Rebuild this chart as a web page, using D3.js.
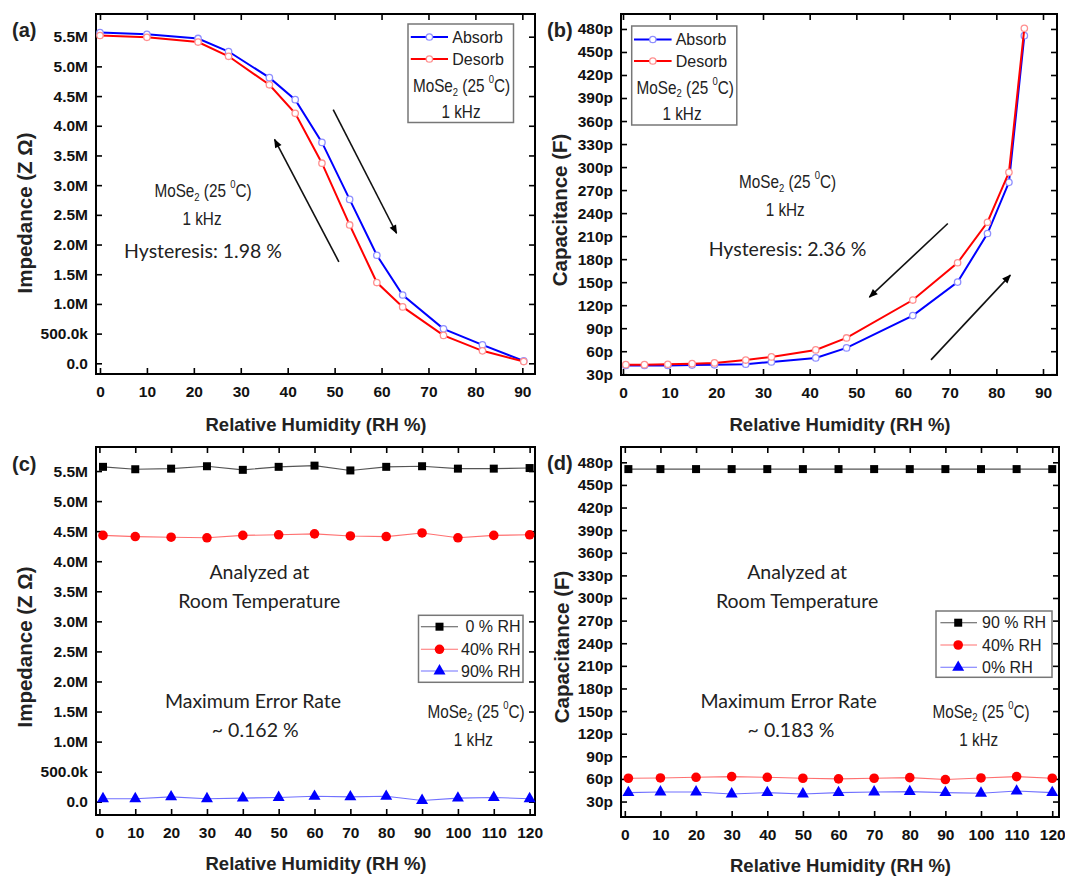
<!DOCTYPE html>
<html><head><meta charset="utf-8">
<script src="https://cdn.jsdelivr.net/npm/d3@7"></script>
<style>body{margin:0;background:#fff} svg{display:block}</style>
</head><body>
<svg id="chart" width="1065" height="877"></svg>
<script>
// ---------------- DATA ----------------
// (a) impedance hysteresis (MΩ)
const rhHyst   = [0, 10, 20.9, 27.4, 36.1, 41.6, 47.3, 53.2, 59.0, 64.5, 73.2, 81.5, 90.3];
const absorbZ  = [5.57, 5.54, 5.47, 5.25, 4.81, 4.44, 3.72, 2.76, 1.82, 1.15, 0.58, 0.31, 0.04];
const desorbZ  = [5.52, 5.49, 5.41, 5.17, 4.69, 4.21, 3.37, 2.33, 1.36, 0.95, 0.47, 0.21, 0.03];
// (b) capacitance hysteresis (pF)
const rhCap    = [0.6, 4.6, 9.6, 14.8, 19.6, 26.3, 31.8, 41.3, 47.9, 62.1, 71.7, 78.1, 82.7, 86.0];
const absorbC  = [41.5, 41.5, 41.5, 42, 42.3, 43, 46, 51.3, 64.3, 106.4, 150.1, 213.4, 280.1, 471.3];
const desorbC  = [42.5, 42.5, 43, 43.8, 44.8, 48.5, 52.6, 61.7, 77.3, 126.7, 175.3, 228.1, 293.1, 480.9];
// (c),(d) stability
const rhStab   = [1, 10, 20, 30, 40, 50, 60, 70, 80, 90, 100, 110, 120];
const stabZ0   = [5.57, 5.53, 5.54, 5.58, 5.52, 5.57, 5.59, 5.51, 5.57, 5.58, 5.54, 5.54, 5.55];
const stabZ40  = [4.43, 4.41, 4.40, 4.39, 4.43, 4.44, 4.455, 4.42, 4.41, 4.47, 4.39, 4.43, 4.44];
const stabZ90  = [0.05, 0.05, 0.08, 0.05, 0.06, 0.07, 0.09, 0.08, 0.09, 0.02, 0.06, 0.07, 0.05];
const stabC90  = [471, 471, 471, 471, 471, 471, 471, 471, 471, 471, 471, 471, 471];
const stabC40  = [60.9, 61.3, 62.2, 63.1, 62.2, 60.9, 60.1, 60.9, 61.7, 59.2, 61.3, 63.1, 60.9];
const stabC0   = [41.8, 42.7, 42.7, 40.1, 41.8, 40.1, 41.8, 42.7, 43.1, 41.8, 41.0, 43.9, 41.8];
// ticks
const xTicksHyst = [0, 10, 20, 30, 40, 50, 60, 70, 80, 90];
const xTicksStab = [0, 10, 20, 30, 40, 50, 60, 70, 80, 90, 100, 110, 120];
const zTicks = [0, 0.5, 1, 1.5, 2, 2.5, 3, 3.5, 4, 4.5, 5, 5.5];
const zTickLabels = ["0.0", "500.0k", "1.0M", "1.5M", "2.0M", "2.5M", "3.0M", "3.5M", "4.0M", "4.5M", "5.0M", "5.5M"];
const cTicks = [30, 60, 90, 120, 150, 180, 210, 240, 270, 300, 330, 360, 390, 420, 450, 480];
const cTickLabels = ["30p", "60p", "90p", "120p", "150p", "180p", "210p", "240p", "270p", "300p", "330p", "360p", "390p", "420p", "450p", "480p"];

// ---------------- DRAWING ----------------
const svg = d3.select('#chart');
const BOLD = "'Liberation Sans', Arial, sans-serif";
const NARROW = "'Liberation Sans', Arial, sans-serif";
const CAL = "Lato, 'Open Sans', sans-serif";

const defs = svg.append('defs');
defs.append('marker').attr('id', 'ah').attr('viewBox', '0 0 10 10').attr('refX', 9).attr('refY', 5)
  .attr('markerWidth', 12).attr('markerHeight', 9).attr('orient', 'auto-start-reverse')
  .attr('markerUnits', 'userSpaceOnUse')
  .append('path').attr('d', 'M0,1 L10,5 L0,9 Z').attr('fill', '#000');

// narrow text: Liberation Sans condensed horizontally
function narrowG(sel, x, y) {
  return sel.append('g').attr('transform', `translate(${x},${y}) scale(0.85,1)`);
}
function mose(sel, x, y, size) {
  const t = narrowG(sel, x, y).append('text').attr('x', 0).attr('y', 0).attr('text-anchor', 'middle')
    .attr('dominant-baseline', 'central').attr('font-family', NARROW).attr('font-size', size).attr('fill', '#222');
  t.append('tspan').text('MoSe');
  t.append('tspan').attr('dy', size * 0.3).attr('font-size', size * 0.62).text('2');
  t.append('tspan').attr('dy', -size * 0.3).text(' (25 ');
  t.append('tspan').attr('dy', -size * 0.38).attr('font-size', size * 0.62).text('0');
  t.append('tspan').attr('dy', size * 0.38).text('C)');
  return t;
}
function khz(sel, x, y, size) {
  return narrowG(sel, x, y).append('text').attr('text-anchor', 'middle').attr('dominant-baseline', 'central')
    .attr('font-family', NARROW).attr('font-size', size).attr('fill', '#222').text('1 kHz');
}
function txt(sel, x, y, s, size, family, anchor, weight) {
  return sel.append('text').attr('x', x).attr('y', y).attr('text-anchor', anchor || 'middle')
    .attr('dominant-baseline', 'central').attr('font-family', family).attr('font-size', size)
    .attr('font-weight', weight || 'normal').attr('fill', '#222').text(s);
}

function panel(cfg) {
  const g = svg.append('g');
  const x = d3.scaleLinear().domain(cfg.xDom).range([cfg.left, cfg.right]);
  const y = d3.scaleLinear().domain(cfg.yDom).range([cfg.bottom, cfg.top]);
  const fmtY = d => cfg.yLabels[cfg.yTicks.indexOf(d)];

  const ax = [
    g.append('g').attr('transform', `translate(0,${cfg.bottom})`)
      .call(d3.axisBottom(x).tickValues(cfg.xTicks).tickSizeInner(-6).tickSizeOuter(0).tickPadding(12).tickFormat(d3.format('d'))),
    g.append('g').attr('transform', `translate(0,${cfg.top})`)
      .call(d3.axisTop(x).tickValues(cfg.xTicks).tickSizeInner(-6).tickSizeOuter(0).tickFormat('')),
    g.append('g').attr('transform', `translate(${cfg.left},0)`)
      .call(d3.axisLeft(y).tickValues(cfg.yTicks).tickSizeInner(-6).tickSizeOuter(0).tickPadding(8).tickFormat(fmtY)),
    g.append('g').attr('transform', `translate(${cfg.right},0)`)
      .call(d3.axisRight(y).tickValues(cfg.yTicks).tickSizeInner(-6).tickSizeOuter(0).tickFormat(''))
  ];
  ax.forEach(a => {
    a.select('.domain').remove();
    a.selectAll('.tick line').attr('stroke', '#000').attr('stroke-width', 1.6);
    a.selectAll('.tick text').attr('font-family', BOLD).attr('font-weight', 'bold')
      .attr('font-size', 15.5).attr('fill', '#111');
  });
  g.append('rect').attr('x', cfg.left).attr('y', cfg.top)
    .attr('width', cfg.right - cfg.left).attr('height', cfg.bottom - cfg.top)
    .attr('fill', 'none').attr('stroke', '#000').attr('stroke-width', 2);

  txt(g, cfg.xTitle[0], cfg.xTitle[1], 'Relative Humidity (RH %)', 18.5, BOLD, 'middle', 'bold');
  txt(g, 0, 0, cfg.yTitle, 20.5, BOLD, 'middle', 'bold')
    .attr('transform', `translate(${cfg.yTitlePos[0]},${cfg.yTitlePos[1]}) rotate(-90)`);
  txt(g, cfg.tag[0], cfg.tag[1], cfg.tagText, 20, BOLD, 'start', 'bold');
  return {g, x, y};
}

function hystSeries(p, xs, ys, color, light) {
  const line = d3.line().x((d, i) => p.x(xs[i])).y(d => p.y(d));
  p.g.append('path').attr('d', line(ys)).attr('fill', 'none').attr('stroke', color).attr('stroke-width', 2);
  p.g.selectAll(null).data(ys).enter().append('circle')
    .attr('cx', (d, i) => p.x(xs[i])).attr('cy', d => p.y(d)).attr('r', 3.2)
    .attr('fill', '#fff').attr('stroke', light).attr('stroke-width', 1.3);
}
const SYM = {
  square: d3.symbol().type(d3.symbolSquare).size(64),
  circle: d3.symbol().type(d3.symbolCircle).size(72),
  triangle: d3.symbol().type(d3.symbolTriangle).size(62)
};
function stabSeries(p, xs, ys, color, light, sym) {
  const line = d3.line().x((d, i) => p.x(xs[i])).y(d => p.y(d));
  p.g.append('path').attr('d', line(ys)).attr('fill', 'none').attr('stroke', light).attr('stroke-width', 1.1);
  p.g.selectAll(null).data(ys).enter().append('path')
    .attr('d', SYM[sym]()).attr('fill', color)
    .attr('transform', (d, i) => `translate(${p.x(xs[i])},${p.y(d)})`);
}
function arrow(p, x1, y1, x2, y2) {
  p.g.append('line').attr('x1', p.x(x1)).attr('y1', p.y(y1)).attr('x2', p.x(x2)).attr('y2', p.y(y2))
    .attr('stroke', '#111').attr('stroke-width', 1.6).attr('marker-end', 'url(#ah)');
}
function legendBox(g, x0, y0, x1, y1) {
  g.append('rect').attr('x', x0).attr('y', y0).attr('width', x1 - x0).attr('height', y1 - y0)
    .attr('fill', '#fff').attr('stroke', '#777').attr('stroke-width', 1.5);
}
function legHyst(g, lx0, lx1, ly, color, light, label, tx) {
  g.append('line').attr('x1', lx0).attr('x2', lx1).attr('y1', ly).attr('y2', ly).attr('stroke', color).attr('stroke-width', 2);
  g.append('circle').attr('cx', (lx0 + lx1) / 2).attr('cy', ly).attr('r', 3.2).attr('fill', '#fff').attr('stroke', light).attr('stroke-width', 1.3);
  txt(g, tx, ly, label, 16, BOLD, 'start');
}
function legStab(g, lx0, lx1, mx, ly, color, light, sym, label, tx, anchor) {
  g.append('line').attr('x1', lx0).attr('x2', lx1).attr('y1', ly).attr('y2', ly).attr('stroke', light).attr('stroke-width', 1.1);
  g.append('path').attr('d', SYM[sym]()).attr('fill', color).attr('transform', `translate(${mx},${ly})`);
  txt(g, tx, ly, label, 16, BOLD, anchor || 'start');
}

// ---- (a)
const pa = panel({left: 96, right: 535, top: 14, bottom: 374, xDom: [-0.85, 92.7], yDom: [-0.18, 5.882],
  xTicks: xTicksHyst, yTicks: zTicks, yLabels: zTickLabels, xTitle: [316, 424], yTitle: 'Impedance (Z Ω)',
  yTitlePos: [24, 213], tag: [12, 30], tagText: '(a)'});
arrow(pa, 50.9, 1.71, 37.2, 3.77);
arrow(pa, 49.7, 4.27, 63.2, 2.19);
hystSeries(pa, rhHyst, absorbZ, '#0000ff', '#8f8fff');
hystSeries(pa, rhHyst, desorbZ, '#ff0000', '#ff9090');
mose(pa.g, 203, 191, 18);
khz(pa.g, 202, 219, 18);
txt(pa.g, 203, 250, 'Hysteresis: 1.98 %', 19.5, CAL);
legendBox(pa.g, 408, 24, 513.5, 122.5);
legHyst(pa.g, 410.8, 448, 37, '#0000ff', '#8f8fff', 'Absorb', 452.3);
legHyst(pa.g, 410.8, 448, 59, '#ff0000', '#ff9090', 'Desorb', 452.3);
mose(pa.g, 461.5, 86, 18);
khz(pa.g, 461, 112.5, 18);

// ---- (b)
const pb = panel({left: 621, right: 1057, top: 14, bottom: 375, xDom: [-0.43, 93], yDom: [29, 499.5],
  xTicks: xTicksHyst, yTicks: cTicks, yLabels: cTickLabels, xTitle: [840, 424], yTitle: 'Capacitance (F)',
  yTitlePos: [559, 210], tag: [547, 30], tagText: '(b)'});
arrow(pb, 69.6, 226.4, 52.8, 130.6);
arrow(pb, 66.0, 48.7, 83.0, 159.2);
hystSeries(pb, rhCap, absorbC, '#0000ff', '#8f8fff');
hystSeries(pb, rhCap, desorbC, '#ff0000', '#ff9090');
mose(pb.g, 787.6, 182, 18);
khz(pb.g, 785.2, 210, 18);
txt(pb.g, 787.6, 248.5, 'Hysteresis: 2.36 %', 19.5, CAL);
legendBox(pb.g, 631.7, 26, 736.8, 125);
legHyst(pb.g, 634, 671.6, 39.5, '#0000ff', '#8f8fff', 'Absorb', 675.7);
legHyst(pb.g, 634, 671.6, 61, '#ff0000', '#ff9090', 'Desorb', 675.7);
mose(pb.g, 685.2, 87.5, 18);
khz(pb.g, 682, 114.5, 18);

// ---- (c)
const pc = panel({left: 96, right: 535, top: 447, bottom: 815, xDom: [-0.95, 121.5], yDom: [-0.221, 5.9],
  xTicks: xTicksStab, yTicks: zTicks, yLabels: zTickLabels, xTitle: [316, 863], yTitle: 'Impedance (Z Ω)',
  yTitlePos: [24, 647], tag: [12, 464], tagText: '(c)'});
stabSeries(pc, rhStab, stabZ0, '#000', '#555', 'square');
stabSeries(pc, rhStab, stabZ40, '#ff0000', '#ff7070', 'circle');
stabSeries(pc, rhStab, stabZ90, '#0000ff', '#7070ff', 'triangle');
txt(pc.g, 259.3, 571.5, 'Analyzed at', 19.5, CAL);
txt(pc.g, 259.3, 600.5, 'Room Temperature', 19.5, CAL);
txt(pc.g, 253, 700.5, 'Maximum Error Rate', 19.5, CAL);
txt(pc.g, 255.2, 729.5, '~ 0.162 %', 19.5, CAL);
mose(pc.g, 476, 711.5, 18);
khz(pc.g, 473.3, 740, 18);
legendBox(pc.g, 418.5, 615.3, 523, 682.3);
legStab(pc.g, 420.9, 458, 439.5, 626.7, '#000', '#555', 'square', '0 % RH', 520.6, 'end');
legStab(pc.g, 420.9, 458, 439.5, 649.3, '#ff0000', '#ff7070', 'circle', '40% RH', 520.6, 'end');
legStab(pc.g, 420.9, 458, 439.5, 671, '#0000ff', '#7070ff', 'triangle', '90% RH', 520.6, 'end');

// ---- (d)
const pd = panel({left: 621, right: 1059, top: 447, bottom: 817, xDom: [-1.07, 121.9], yDom: [9.5, 500.3],
  xTicks: xTicksStab, yTicks: cTicks, yLabels: cTickLabels, xTitle: [840.5, 865], yTitle: 'Capacitance (F)',
  yTitlePos: [561, 647], tag: [547, 463], tagText: '(d)'});
stabSeries(pd, rhStab, stabC90, '#000', '#555', 'square');
stabSeries(pd, rhStab, stabC40, '#ff0000', '#ff7070', 'circle');
stabSeries(pd, rhStab, stabC0, '#0000ff', '#7070ff', 'triangle');
txt(pd.g, 797.1, 571.5, 'Analyzed at', 19.5, CAL);
txt(pd.g, 797.1, 600.5, 'Room Temperature', 19.5, CAL);
txt(pd.g, 788.6, 700.5, 'Maximum Error Rate', 19.5, CAL);
txt(pd.g, 791, 729.5, '~ 0.183 %', 19.5, CAL);
mose(pd.g, 981, 711.5, 18);
khz(pd.g, 978.7, 740, 18);
legendBox(pd.g, 936, 611, 1052, 677.3);
legStab(pd.g, 940.4, 977, 958.2, 622.7, '#000', '#555', 'square', '90 % RH', 982);
legStab(pd.g, 940.4, 977, 958.2, 645, '#ff0000', '#ff7070', 'circle', '40% RH', 982);
legStab(pd.g, 940.4, 977, 958.2, 667.3, '#0000ff', '#7070ff', 'triangle', '0% RH', 982);
</script>
</body></html>
